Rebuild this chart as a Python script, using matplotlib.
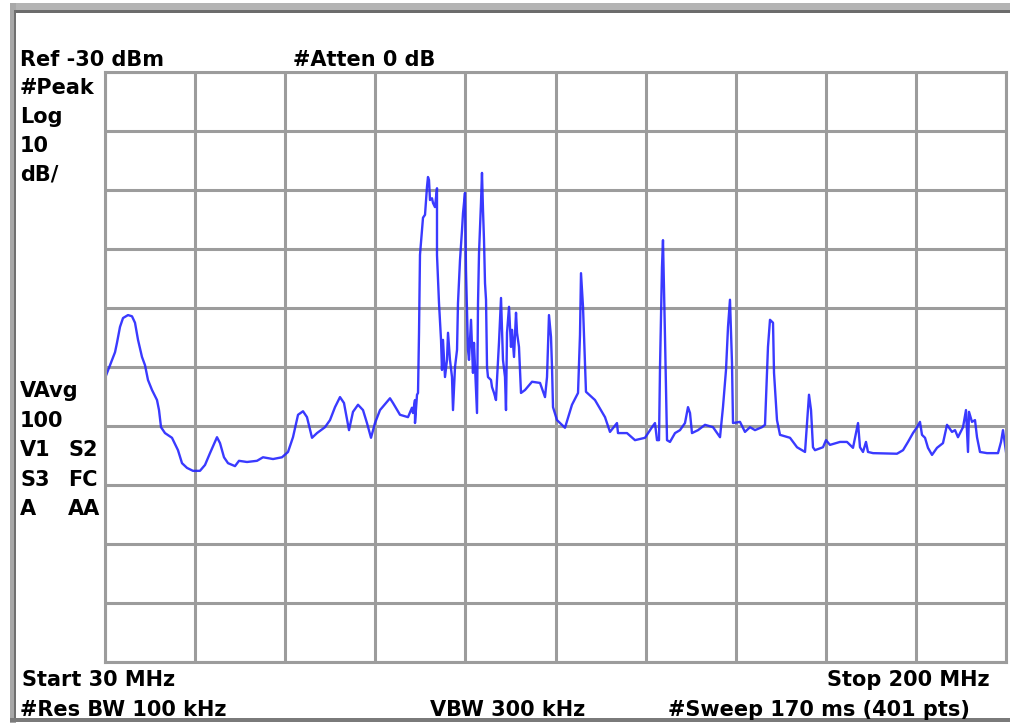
import matplotlib
matplotlib.use('Agg')
import matplotlib.pyplot as plt
from matplotlib.patches import Rectangle

# trace vertices (MHz, dBm)
freq_mhz = [
    30.00, 30.94, 31.89, 32.26, 32.83, 33.40, 34.34, 35.09, 35.66, 36.23,
    36.98, 37.55, 38.11, 38.87, 39.81, 40.19, 40.57, 41.32, 42.64, 43.77,
    44.53, 45.47, 46.60, 47.92, 48.87, 49.81, 51.13, 51.70, 52.45, 53.21,
    54.53, 55.28, 56.79, 58.68, 59.81, 61.70, 63.40, 64.53, 65.47, 66.42,
    67.36, 68.11, 69.06, 70.00, 71.51, 72.45, 73.40, 74.34, 75.09, 76.04,
    76.79, 77.74, 78.68, 79.43, 80.19, 80.94, 81.89, 83.77, 84.34, 85.66,
    87.17, 87.92, 88.11, 88.49, 88.49, 88.87, 89.06, 89.25, 89.43, 89.81,
    90.00, 90.38, 90.75, 90.94, 91.13, 91.32, 91.70, 91.89, 92.26, 92.64,
    92.64, 93.02, 93.40, 93.58, 93.77, 94.15, 94.53, 94.72, 95.09, 95.47,
    95.66, 96.04, 96.42, 96.60, 96.98, 97.36, 97.55, 97.92, 98.11, 98.49,
    98.68, 99.06, 99.43, 99.62, 100.00, 100.19, 100.38, 100.57, 100.94, 101.13,
    101.32, 101.51, 101.70, 101.89, 102.08, 102.26, 102.83, 103.02, 103.40, 103.77,
    103.96, 104.34, 104.72, 104.91, 105.09, 105.47, 105.66, 105.85, 106.23, 106.60,
    106.79, 107.17, 107.55, 107.74, 108.11, 108.49, 109.25, 110.57, 112.08, 113.02,
    113.40, 113.77, 114.15, 114.34, 114.53, 115.28, 116.79, 118.11, 119.25, 119.62,
    119.81, 120.19, 120.57, 120.75, 122.45, 124.34, 125.28, 126.60, 126.79, 128.49,
    130.00, 131.89, 133.21, 133.77, 134.15, 134.53, 134.72, 135.09, 135.28, 135.66,
    136.04, 136.60, 137.55, 138.49, 139.43, 140.00, 140.38, 140.75, 141.89, 143.21,
    144.72, 146.04, 146.60, 147.17, 147.55, 147.92, 148.30, 148.49, 149.81, 150.75,
    151.70, 152.64, 153.96, 154.53, 155.09, 155.47, 156.04, 156.23, 156.79, 157.36,
    159.25, 160.57, 162.08, 162.45, 162.83, 163.21, 163.58, 163.96, 165.47, 166.04,
    166.79, 168.68, 170.00, 171.13, 172.08, 172.45, 173.02, 173.58, 173.96, 174.91,
    179.43, 180.57, 181.51, 182.45, 183.21, 183.77, 184.15, 184.72, 185.28, 186.04,
    186.98, 188.11, 188.87, 189.81, 190.38, 190.94, 191.89, 192.45, 192.83, 193.02,
    193.58, 194.15, 194.53, 195.09, 196.42, 198.49, 199.06, 199.43, 200.00,
]
level_dbm = [
    -81.9, -79.7, -77.5, -75.9, -73.2, -71.7, -71.2, -71.4, -72.5, -75.4,
    -78.3, -79.7, -82.2, -83.9, -85.6, -87.3, -90.2, -91.2, -92.0, -94.1,
    -96.3, -97.1, -97.6, -97.6, -96.6, -94.6, -91.9, -92.9, -95.3, -96.3,
    -96.8, -95.9, -96.1, -95.9, -95.3, -95.6, -95.3, -94.4, -91.9, -88.1,
    -87.5, -88.5, -92.0, -91.2, -90.2, -89.0, -86.8, -85.1, -86.1, -90.7,
    -87.6, -86.4, -87.3, -89.5, -92.0, -89.5, -87.3, -85.3, -86.1, -88.1,
    -88.5, -86.9, -87.8, -85.6, -89.5, -84.7, -84.4, -74.1, -61.0, -56.8,
    -54.7, -54.2, -49.5, -47.8, -48.3, -51.7, -51.4, -52.2, -52.9, -49.7,
    -61.0, -69.2, -75.4, -80.5, -75.4, -81.7, -78.8, -74.2, -78.8, -81.7,
    -87.3, -80.0, -77.1, -69.2, -61.9, -56.8, -53.9, -50.5, -63.6, -77.1,
    -78.8, -72.0, -81.0, -75.9, -83.9, -87.8, -69.2, -60.7, -52.2, -47.1,
    -53.4, -58.5, -65.8, -68.6, -80.0, -81.7, -82.2, -83.4, -84.4, -85.6,
    -82.2, -75.8, -68.3, -73.7, -78.8, -81.7, -87.3, -74.2, -69.8, -76.6,
    -73.7, -78.3, -70.8, -74.2, -76.6, -84.4, -83.9, -82.5, -82.7, -85.1,
    -81.7, -71.2, -74.9, -80.0, -86.8, -89.0, -90.3, -86.4, -84.4, -74.6,
    -64.1, -69.8, -79.7, -84.2, -85.6, -88.5, -91.0, -89.5, -91.2, -91.2,
    -92.4, -92.0, -90.2, -89.5, -92.4, -92.4, -80.0, -63.1, -58.5, -74.9,
    -92.4, -92.7, -91.2, -90.7, -89.5, -86.8, -87.8, -91.2, -90.7, -89.8,
    -90.2, -91.9, -86.8, -80.5, -73.2, -68.6, -79.3, -89.5, -89.3, -91.0,
    -90.2, -90.7, -90.2, -89.8, -76.6, -72.0, -72.5, -81.0, -89.0, -91.5,
    -92.0, -93.6, -94.4, -89.5, -84.7, -87.3, -93.6, -94.1, -93.6, -92.4,
    -93.2, -92.7, -92.7, -93.7, -89.5, -93.6, -94.4, -92.7, -94.4, -94.6,
    -94.7, -94.1, -92.7, -91.2, -90.2, -89.3, -91.5, -92.0, -93.7, -94.9,
    -93.7, -92.9, -89.8, -91.0, -90.7, -91.9, -90.2, -87.3, -94.4, -87.6,
    -89.3, -89.0, -91.9, -94.4, -94.6, -94.6, -92.7, -90.7, -94.4,
]

start_mhz, stop_mhz = 30, 200
ref_dbm, db_per_div = -30, 10

W, H = 1010, 728
fig = plt.figure(figsize=(W / 100, H / 100), dpi=100)
fig.patch.set_facecolor('white')

# plot area in pixel coords of the screenshot
x0, x1, y0, y1 = 105, 1006, 72, 662
ax = fig.add_axes([x0 / W, 1 - y1 / H, (x1 - x0) / W, (y1 - y0) / H])
ax.set_xlim(start_mhz, stop_mhz)
ax.set_ylim(ref_dbm - 10 * db_per_div, ref_dbm)
ax.set_xticks([start_mhz + i * (stop_mhz - start_mhz) / 10 for i in range(11)])
ax.set_yticks([ref_dbm - i * db_per_div for i in range(11)])
ax.grid(True, color='#9c9c9c', lw=2.2)
ax.tick_params(length=0, labelbottom=False, labelleft=False)
for s in ax.spines.values():
    s.set_color('#9c9c9c')
    s.set_linewidth(2.2)
ax.set_axisbelow(True)

ax.plot(freq_mhz, level_dbm, color='#2424ff', lw=1.7, alpha=0.9)

# window border of the screenshot
def box(x, y, w, h, c):
    fig.patches.append(Rectangle((x / W, 1 - (y + h) / H), w / W, h / H,
                                 transform=fig.transFigure, color=c, lw=0))

box(10, 3, 1000, 10, '#b4b4b4')
box(14, 10, 996, 3, '#6c6c6c')
box(10, 3, 6, 720, '#a8a8a8')
box(14, 10, 2, 710, '#707070')
box(10, 718, 1000, 4, '#7a7a7a')

fs = 15
kw = dict(fontsize=fs, fontweight='bold', family='DejaVu Sans', va='baseline', color='black')

def label(x, y, s, ha='left'):
    fig.text(x / W, 1 - y / H, s, ha=ha, **kw)

label(20, 66, 'Ref -30 dBm')
label(293, 66, '#Atten 0 dB')
label(20, 94, '#Peak')
label(20, 123, 'Log')
label(20, 152, '10')
label(20, 180, 'dB/')
label(20, 397, 'VAvg')
label(20, 427, '100')
label(20, 456, 'V1')
label(68, 456, 'S2')
label(20, 486, 'S3')
label(68, 486, 'FC')
label(20, 515, 'A')
label(68, 515, 'AA')
label(22, 686, 'Start 30 MHz')
label(990, 686, 'Stop 200 MHz', ha='right')
label(20, 716, '#Res BW 100 kHz')
label(430, 716, 'VBW 300 kHz')
label(668, 716, '#Sweep 170 ms (401 pts)')

fig.savefig('out.png', dpi=100, facecolor='white')
